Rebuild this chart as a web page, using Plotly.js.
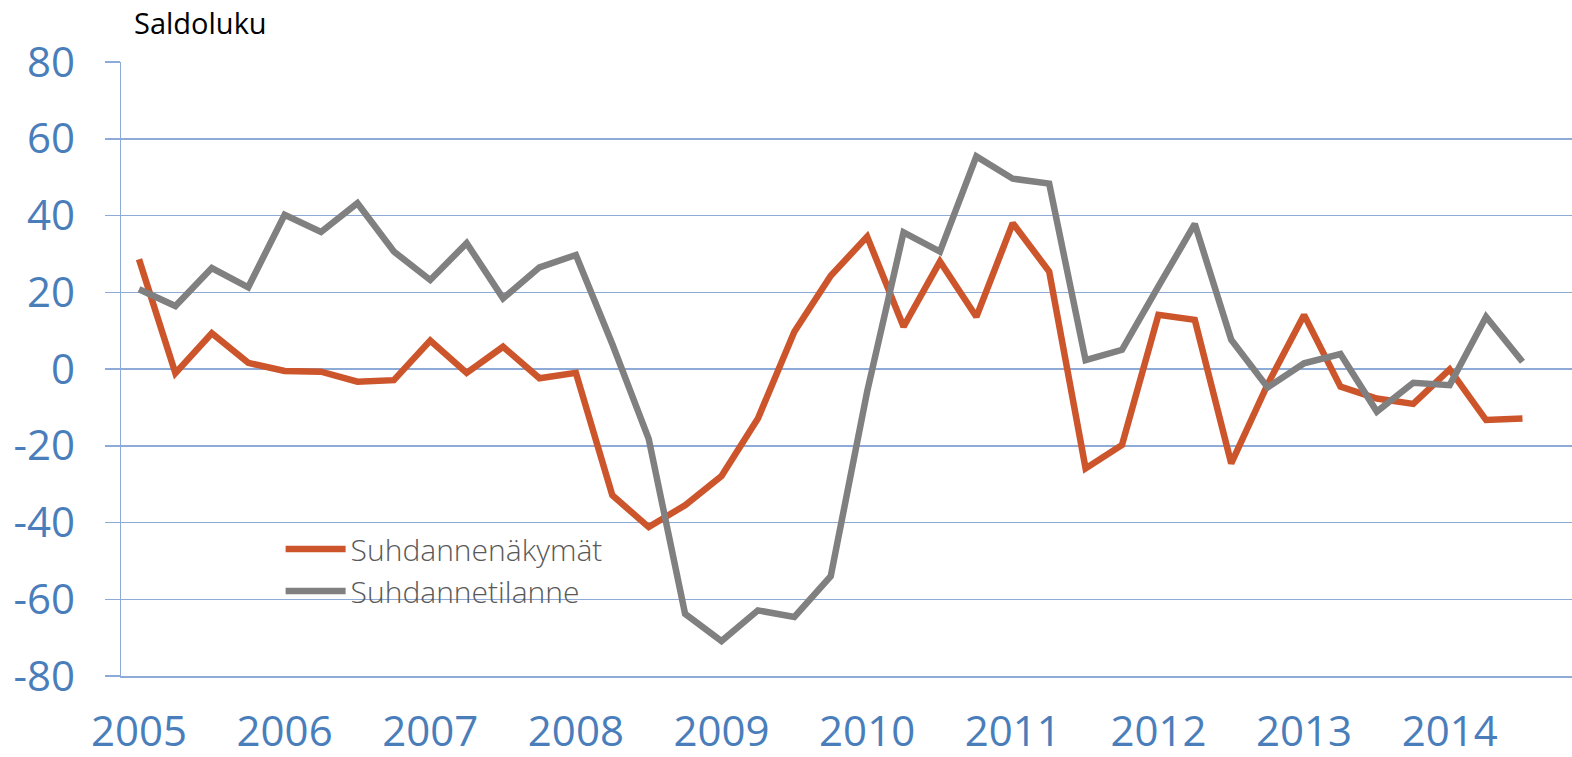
<!DOCTYPE html>
<html>
<head>
<meta charset="utf-8">
<script src="https://cdn.plot.ly/plotly-3.0.1.min.js"></script>
<style>
html,body{margin:0;padding:0;background:#fff;}
#chart{width:1572px;height:757px;}
</style>
</head>
<body>
<div id="chart"></div>
<script>
var quarters = [
  "2005Q1","2005Q2","2005Q3","2005Q4",
  "2006Q1","2006Q2","2006Q3","2006Q4",
  "2007Q1","2007Q2","2007Q3","2007Q4",
  "2008Q1","2008Q2","2008Q3","2008Q4",
  "2009Q1","2009Q2","2009Q3","2009Q4",
  "2010Q1","2010Q2","2010Q3","2010Q4",
  "2011Q1","2011Q2","2011Q3","2011Q4",
  "2012Q1","2012Q2","2012Q3","2012Q4",
  "2013Q1","2013Q2","2013Q3","2013Q4",
  "2014Q1","2014Q2","2014Q3"
];
var suhdannenakymat = [28.6,-1.1,9.3,1.6,-0.5,-0.7,-3.3,-2.9,7.4,-1.0,5.8,-2.4,-1.0,
  -32.9,-41.2,-35.5,-27.9,-12.9,9.7,24.3,34.5,11.0,28.0,13.6,38.0,25.4,
  -25.9,-19.8,14.1,12.8,-24.6,-4.0,14.1,-4.6,-7.7,-9.1,-0.1,-13.3,-12.9];
var suhdannetilanne = [20.8,16.4,26.3,21.3,40.2,35.7,43.2,30.6,23.2,32.8,18.4,26.5,29.7,
  6.5,-18.2,-63.8,-70.9,-62.9,-64.6,-54.0,-5.9,35.6,30.6,55.4,49.6,48.3,
  2.3,5.0,21.5,37.8,7.6,-4.8,1.5,3.9,-11.1,-3.6,-4.2,13.6,1.9];
var yearTickVals = ["2005Q1","2006Q1","2007Q1","2008Q1","2009Q1","2010Q1","2011Q1","2012Q1","2013Q1","2014Q1"];
var yearTickText = ["2005","2006","2007","2008","2009","2010","2011","2012","2013","2014"];
var yTickVals = [-80,-60,-40,-20,0,20,40,60,80];
var yTickText = ["-80","-60","-40","-20","0","20","40","60","80"];

var gridColor = "#8EAAD6";
var labelColor = "#4A7EBB";
var tickFont = {family: "Open Sans, sans-serif", size: 42, color: labelColor};

var traces = [
  {x: quarters, y: suhdannenakymat, type: "scatter", mode: "lines", name: "Suhdannenäkymät",
   line: {color: "#CD552C", width: 6.5}},
  {x: quarters, y: suhdannetilanne, type: "scatter", mode: "lines", name: "Suhdannetilanne",
   line: {color: "#808080", width: 6.5}}
];

var layout = {
  width: 1572, height: 757,
  margin: {l: 121, r: 0, t: 62, b: 81, pad: 0},
  paper_bgcolor: "#fff", plot_bgcolor: "#fff",
  showlegend: true,
  legend: {x: 0.110, y: 0.249, xanchor: "left", yanchor: "top", bgcolor: "rgba(0,0,0,0)",
    itemwidth: 60, tracegroupgap: 0,
    font: {family: "Open Sans, sans-serif", size: 30, color: "#595959", weight: 300}},
  xaxis: {
    type: "category", range: [-0.494, 39.36],
    tickmode: "array", tickvals: yearTickVals, ticktext: yearTickText,
    showgrid: false, zeroline: false, showline: true, linecolor: gridColor, linewidth: 2,
    ticks: "", tickfont: tickFont, ticklabelstandoff: 18, fixedrange: true
  },
  yaxis: {
    range: [-80, 80], tickmode: "array", tickvals: yTickVals, ticktext: yTickText,
    showgrid: true, gridcolor: gridColor, gridwidth: 1.5,
    zeroline: false, showline: true, linecolor: gridColor, linewidth: 1.5,
    ticks: "outside", ticklen: 15, tickcolor: gridColor, tickwidth: 1.5,
    tickfont: tickFont, ticklabelstandoff: 21, fixedrange: true
  },
  annotations: [{
    text: "Saldoluku", xref: "paper", yref: "paper", x: 0.0076, y: 1.1,
    xanchor: "left", yanchor: "top", showarrow: false,
    font: {family: "Open Sans, sans-serif", size: 29, color: "#000"}
  }]
};

Plotly.newPlot("chart", traces, layout, {displayModeBar: false, staticPlot: true});
</script>
</body>
</html>
